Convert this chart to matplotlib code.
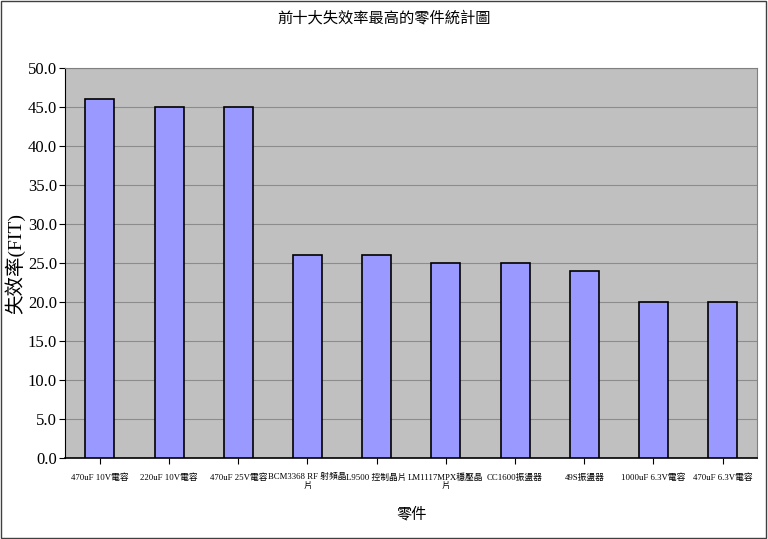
import matplotlib
matplotlib.use("Agg")
import matplotlib.pyplot as plt
from matplotlib.patches import Rectangle

fonts = ['Liberation Serif', 'Noto Sans CJK TC']
plt.rcParams['font.family'] = fonts

parts = ['470uF 10V電容', '220uF 10V電容', '470uF 25V電容', 'BCM3368 RF 射頻晶\n片',
         'L9500 控制晶片', 'LM1117MPX穩壓晶\n片', 'CC1600振盪器', '49S振盪器',
         '1000uF 6.3V電容', '470uF 6.3V電容']
fit = [46, 45, 45, 26, 26, 25, 25, 24, 20, 20]

fig = plt.figure(figsize=(7.68, 5.39), dpi=100)
ax = fig.add_axes([0.085, 0.150, 0.901, 0.724])
ax.set_facecolor('#C0C0C0')

x = range(len(parts))
ax.bar(x, fit, width=0.42, color='#9999FF', edgecolor='black', linewidth=1.2, zorder=3)

ax.set_xlim(-0.5, len(parts) - 0.5)
ax.set_ylim(0, 50)
ax.set_yticks(range(0, 51, 5))
ax.set_yticklabels(['%.1f' % v for v in range(0, 51, 5)], fontsize=12)
ax.yaxis.grid(True, color='#8C8C8C', linewidth=0.8, zorder=0)
ax.set_xticks(list(x))
ax.set_xticklabels(parts, fontsize=6.3, linespacing=1.0)
ax.tick_params(axis='x', length=4, pad=7)
ax.tick_params(axis='y', length=4, pad=2)
for s in ax.spines.values():
    s.set_color('#808080')
ax.spines['left'].set_color('black')
ax.spines['bottom'].set_color('black')
ax.spines['bottom'].set_linewidth(1.2)

ax.set_ylabel('失效率(FIT)', fontsize=14, labelpad=2)
ax.set_xlabel('零件', fontsize=11, labelpad=12)
fig.text(0.5, 0.967, '前十大失效率最高的零件統計圖', ha='center', va='center', fontsize=11)

fig.patches.append(Rectangle((0.001, 0.001), 0.997, 0.997, transform=fig.transFigure,
                             fill=False, edgecolor='#404040', linewidth=1))

fig.savefig('out.png', dpi=100)
